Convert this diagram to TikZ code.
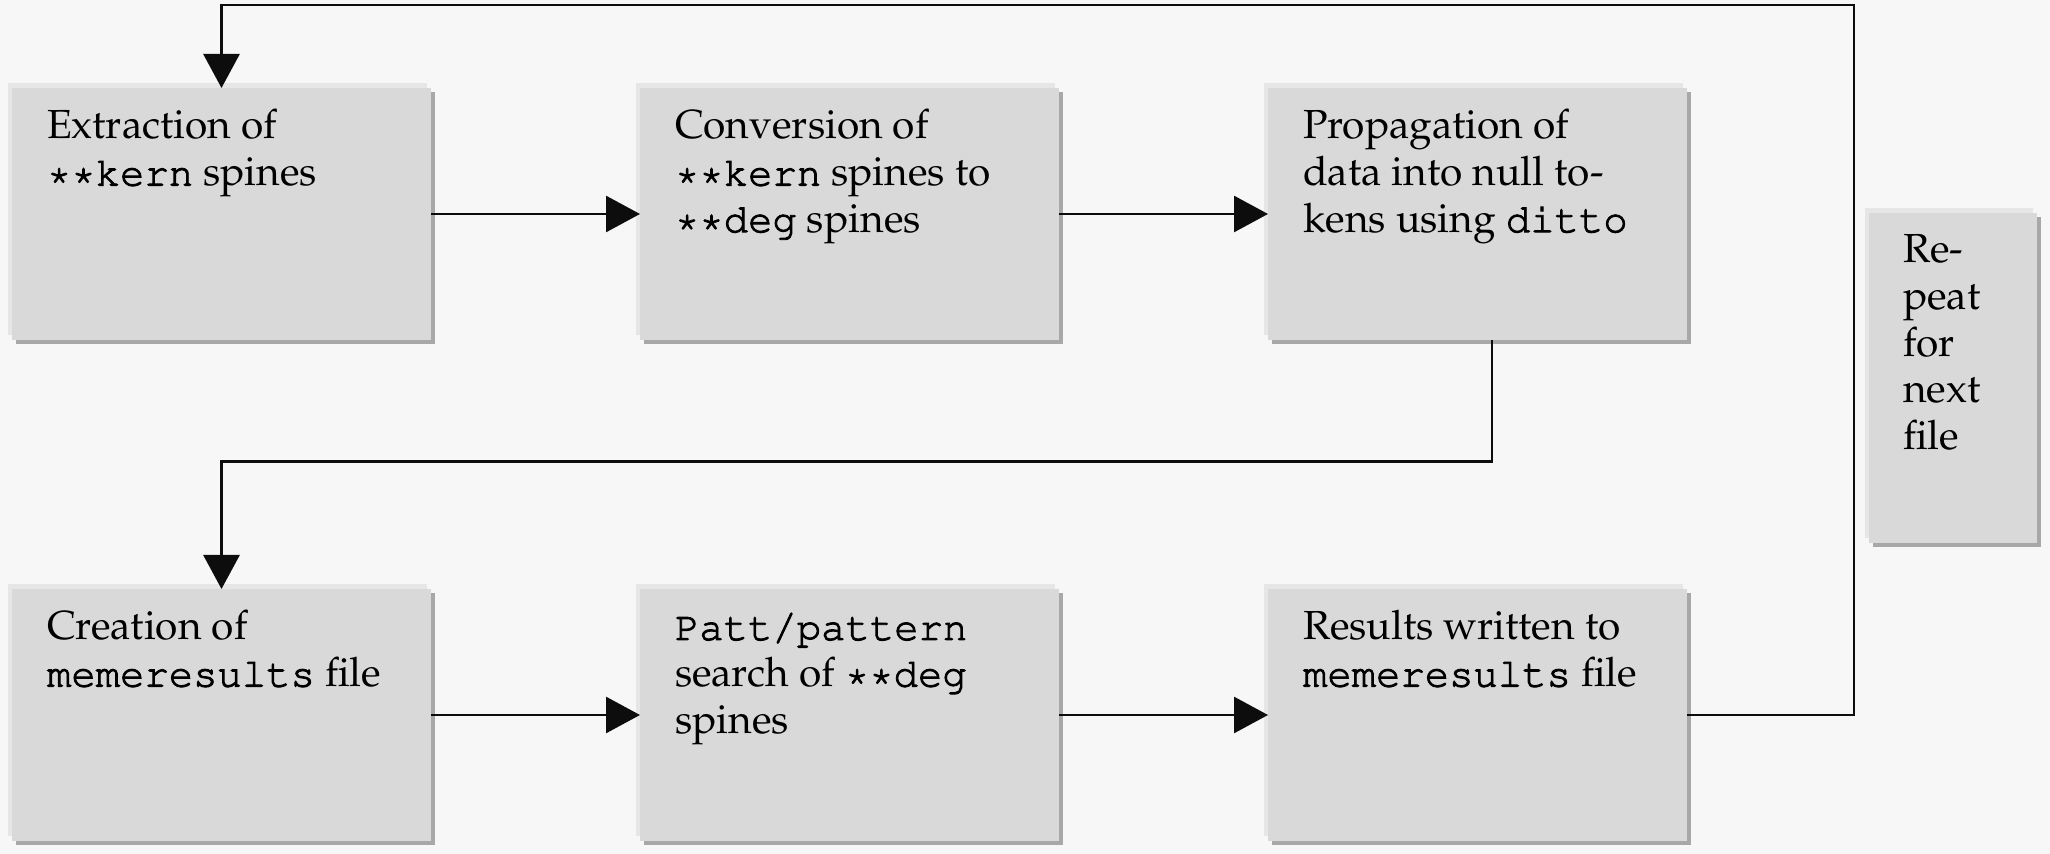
\documentclass[tikz,border=0pt]{standalone}
\usepackage[T1]{fontenc}
\usepackage{palatino}
\usepackage{courier}
\usetikzlibrary{arrows.meta,calc,shadows}
\definecolor{bg}{HTML}{F7F7F7}
\definecolor{boxfill}{HTML}{D9D9D9}
\definecolor{boxlight}{HTML}{E6E6E6}
\definecolor{boxshadow}{HTML}{A8A8A8}
\definecolor{linecol}{HTML}{0D0D0D}
\newcommand{\lines}[1]{\begin{tabular}[t]{@{}l@{}}#1\end{tabular}}
\newcommand{\mtt}[1]{\special{pdf:literal direct 0.45 w 2 Tr}\texttt{#1}\special{pdf:literal direct 0 Tr}}
\tikzset{
  stagebox/.style={rectangle, fill=boxfill, draw=none, inner sep=0pt, outer sep=0pt,
    minimum width=209.5pt, minimum height=126pt,
    general shadow={fill=boxlight, shadow xshift=-2pt, shadow yshift=2.5pt},
    general shadow={fill=boxshadow, shadow xshift=2pt, shadow yshift=-2pt}},
  repeatbox/.style={stagebox, minimum width=84pt, minimum height=165pt},
  boxlabel/.style={anchor=base west, inner sep=0pt, outer sep=0pt,
    font=\fontsize{20.3}{23.3}\selectfont},
  conn/.style={draw=linecol, line width=1.4pt},
  arr/.style={conn, -{Triangle[length=17pt,width=18pt]}}
}
\begin{document}
\begin{tikzpicture}[x=0.5pt,y=-0.5pt]
\fill[bg] (0,0) rectangle (2050,854);
\useasboundingbox (0,0) rectangle (2050,854);
% boxes (centres in px)
\node[stagebox] (B1) at (221.5,214) {};
\node[stagebox] (B2) at (849.5,214) {};
\node[stagebox] (B3) at (1477.5,214) {};
\node[stagebox] (B4) at (221.5,715) {};
\node[stagebox] (B5) at (849.5,715) {};
\node[stagebox] (B6) at (1477.5,715) {};
\node[repeatbox] (R) at (1953,378) {};
% labels
\node[boxlabel] (T1) at ($(B1.north west)+(35,51)$) {\lines{Extraction of\\\mtt{**kern} spines}};
\node[boxlabel] (T2) at ($(B2.north west)+(35,51)$) {\lines{Conversion of\\\mtt{**kern} spines to\\\mtt{**deg} spines}};
\node[boxlabel] (T3) at ($(B3.north west)+(35,51)$) {\lines{Propagation of\\data into null to-\\kens using \mtt{ditto}}};
\node[boxlabel] (T4) at ($(B4.north west)+(35,51)$) {\lines{Creation of\\\mtt{memeresults} file}};
\node[boxlabel] (T5) at ($(B5.north west)+(35,51)$) {\lines{\mtt{Patt/pattern}\\search of \mtt{**deg}\\spines}};
\node[boxlabel] (T6) at ($(B6.north west)+(35,51)$) {\lines{Results written to\\\mtt{memeresults} file}};
\node[boxlabel] (TR) at ($(R.north west)+(34,50)$) {\lines{Re-\\peat\\for\\next\\file}};
% connectors
\draw[arr] (B1.east) -- (B2.west);
\draw[arr] (B2.east) -- (B3.west);
\draw[arr] (B4.east) -- (B5.west);
\draw[arr] (B5.east) -- (B6.west);
\coordinate (d1) at ($(B3.south)+(14.5,0)$);
\coordinate (d2) at (1492,461.5);
\coordinate (d3) at (221.5,461.5);
\draw[arr] (d1) -- (d2) -- (d3) -- (B4.north);
\coordinate (u1) at (1854,715);
\coordinate (u2) at (1854,5);
\coordinate (u3) at (221.5,5);
\draw[arr] (B6.east) -- (u1) -- (u2) -- (u3) -- (B1.north);
\end{tikzpicture}
\end{document}
